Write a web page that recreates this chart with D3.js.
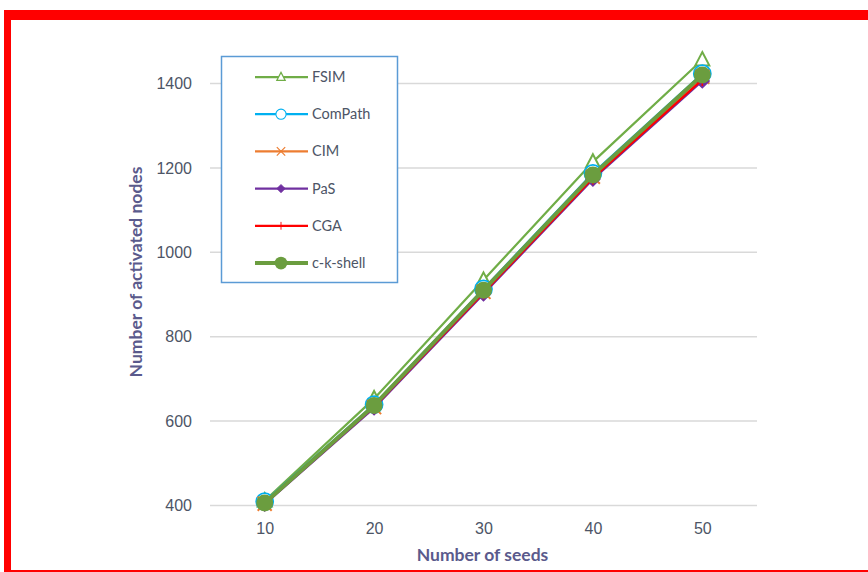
<!DOCTYPE html>
<html>
<head>
<meta charset="utf-8">
<script src="https://cdn.jsdelivr.net/npm/d3@7"></script>
<style>
  body { margin: 0; background: #fff; }
  svg { display: block; font-family: Lato, "Open Sans", sans-serif; }
  .grid line { stroke: #d9d9d9; stroke-width: 1.5; }
  .grid path { display: none; }
  .tick text { fill: #4d5566; font-size: 16px; }
  .axis-title { fill: #5a5a8c; font-size: 17.5px; font-weight: bold; }
  .legend-text { fill: #4d5566; font-size: 14.5px; }
</style>
</head>
<body>
<div id="chart"></div>
<script>
// data
const seeds = [10, 20, 30, 40, 50];
const fsim     = [410, 652, 933, 1213, 1455];
const compath  = [408, 638, 912, 1186, 1422];
const cim      = [403, 632, 905, 1178, 1415];
const pas      = [402, 630, 900, 1172, 1405];
const cga      = [404, 633, 903, 1175, 1408];
const ckshell  = [405, 636, 909, 1182, 1419];
const yTicks = [400, 600, 800, 1000, 1200, 1400];

const series = [
    {name: "FSIM", values: fsim, color: "#70ad47", width: 2.25, marker: "triangle"},
    {name: "ComPath", values: compath, color: "#00b0f0", width: 2.25, marker: "circle"},
    {name: "CIM", values: cim, color: "#ed7d31", width: 2.25, marker: "x"},
    {name: "PaS", values: pas, color: "#7030a0", width: 2.25, marker: "diamond"},
    {name: "CGA", values: cga, color: "#ff0000", width: 2.25, marker: "plus"},
    {name: "c-k-shell", values: ckshell, color: "#6b9d3f", width: 4, marker: "dot"}
];

const width = 868, height = 572;
const plot = {left: 210, right: 757, top: 83, bottom: 505};

const svg = d3.select("#chart").append("svg")
    .attr("width", width)
    .attr("height", height);

// red frame
svg.append("rect").attr("x", 4).attr("y", 10).attr("width", width - 4).attr("height", 10).attr("fill", "#ff0000");
svg.append("rect").attr("x", 4).attr("y", 10).attr("width", 7).attr("height", height - 10).attr("fill", "#ff0000");
svg.append("rect").attr("x", 4).attr("y", 570).attr("width", width - 4).attr("height", 2).attr("fill", "#ff0000");

const x = d3.scalePoint()
    .domain(seeds)
    .range([plot.left, plot.right])
    .padding(0.5);

const y = d3.scaleLinear()
    .domain([400, 1400])
    .range([plot.bottom, plot.top]);

// gridlines + y labels
const yAxis = svg.append("g")
    .attr("class", "grid")
    .attr("transform", `translate(${plot.left},0)`)
    .call(d3.axisLeft(y).tickValues(yTicks).tickSize(-(plot.right - plot.left)).tickPadding(18).tickFormat(d3.format("d")));
yAxis.selectAll(".tick text").attr("dy", "0.35em");

// x labels
const xAxis = svg.append("g")
    .attr("transform", `translate(0,${plot.bottom})`)
    .call(d3.axisBottom(x).tickSize(0).tickPadding(18));
xAxis.select(".domain").remove();

svg.append("text")
    .attr("class", "axis-title")
    .attr("x", (plot.left + plot.right) / 2 - 1)
    .attr("y", 561)
    .attr("text-anchor", "middle")
    .text("Number of seeds");

svg.append("text")
    .attr("class", "axis-title")
    .attr("transform", `translate(142,272) rotate(-90)`)
    .attr("text-anchor", "middle")
    .text("Number of activated nodes");

function drawMarker(g, type, color, cx, cy) {
    if (type === "triangle") {
        const s = 7;
        g.append("path")
            .attr("d", `M${cx},${cy - s * 1.1}L${cx + s},${cy + s * 0.8}L${cx - s},${cy + s * 0.8}Z`)
            .attr("fill", "#fff").attr("stroke", color).attr("stroke-width", 2);
    } else if (type === "circle") {
        g.append("circle").attr("cx", cx).attr("cy", cy).attr("r", 8.5)
            .attr("fill", "#fff").attr("stroke", color).attr("stroke-width", 1.8);
    } else if (type === "x") {
        const s = 7;
        g.append("path")
            .attr("d", `M${cx - s},${cy - s}L${cx + s},${cy + s}M${cx + s},${cy - s}L${cx - s},${cy + s}`)
            .attr("stroke", color).attr("stroke-width", 2);
    } else if (type === "diamond") {
        const s = 7;
        g.append("path")
            .attr("d", `M${cx},${cy - s}L${cx + s},${cy}L${cx},${cy + s}L${cx - s},${cy}Z`)
            .attr("fill", color).attr("stroke", color).attr("stroke-width", 1.2);
    } else if (type === "plus") {
        const s = 6.5;
        g.append("path")
            .attr("d", `M${cx},${cy - s}L${cx},${cy + s}M${cx - s},${cy}L${cx + s},${cy}`)
            .attr("stroke", color).attr("stroke-width", 1.5);
    } else if (type === "dot") {
        g.append("circle").attr("cx", cx).attr("cy", cy).attr("r", 8.5)
            .attr("fill", color);
    }
}

const line = d3.line()
    .x((d, i) => x(seeds[i]))
    .y(d => y(d));

series.forEach(s => {
    const g = svg.append("g").attr("class", "series");
    g.append("path")
        .datum(s.values)
        .attr("d", line)
        .attr("fill", "none")
        .attr("stroke", s.color)
        .attr("stroke-width", s.width)
        .attr("stroke-linejoin", "round");
    s.values.forEach((v, i) => drawMarker(g, s.marker, s.color, x(seeds[i]), y(v)));
});

// legend
const legend = svg.append("g").attr("class", "legend");
legend.append("rect")
    .attr("x", 221.5).attr("y", 56.5)
    .attr("width", 176).attr("height", 226)
    .attr("fill", "#fff")
    .attr("stroke", "#5b9bd5")
    .attr("stroke-width", 1.5);

series.forEach((s, i) => {
    const ly = 77 + i * 37.2;
    const g = legend.append("g");
    g.append("line")
        .attr("x1", 255).attr("x2", 308)
        .attr("y1", ly).attr("y2", ly)
        .attr("stroke", s.color)
        .attr("stroke-width", s.width);
    const scale = s.marker === "dot" ? 0.75 : 0.6;
    const mg = g.append("g").attr("transform", `translate(281,${ly}) scale(${scale})`);
    drawMarker(mg, s.marker, s.color, 0, 0);
    g.append("text")
        .attr("class", "legend-text")
        .attr("x", 312)
        .attr("y", ly)
        .attr("dy", "0.35em")
        .text(s.name);
});
</script>
</body>
</html>
